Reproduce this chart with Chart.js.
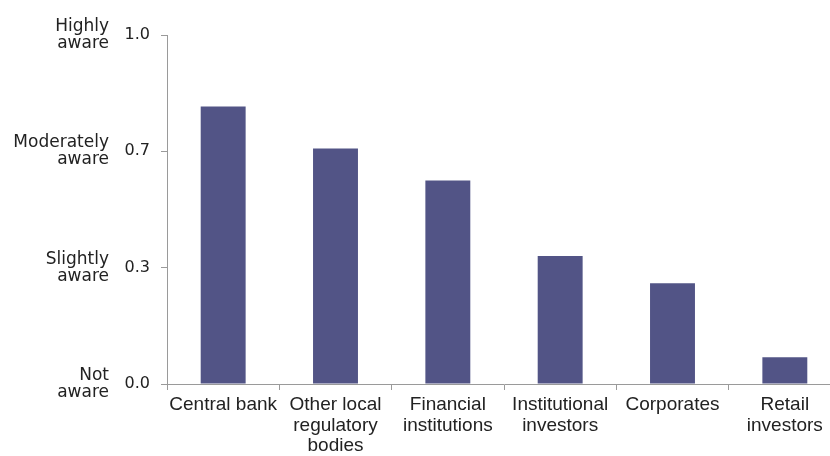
<!DOCTYPE html>
<html>
<head>
<meta charset="utf-8">
<script src="https://cdn.jsdelivr.net/npm/chart.js@4/dist/chart.umd.min.js"></script>
<style>
  html, body { margin: 0; padding: 0; background: #fff; overflow: hidden; }
  #wrap { width: 842px; height: 456px; }
</style>
</head>
<body>
<div id="wrap"><canvas id="awarenessChart" width="842" height="456"></canvas></div>
<script>
// chart values
const categories = [
    'Central bank',
    ['Other local', 'regulatory', 'bodies'],
    ['Financial', 'institutions'],
    ['Institutional', 'investors'],
    'Corporates',
    ['Retail', 'investors']
];
const awareness = [0.795, 0.675, 0.583, 0.367, 0.289, 0.077];
const tickValues = ['0.0', '0.3', '0.7', '1.0'];
const levelLabels = [['Not', 'aware'], ['Slightly', 'aware'], ['Moderately', 'aware'], ['Highly', 'aware']];

(function () {
    const ctx = document.getElementById('awarenessChart');
    const axisGrey = '#9a9a9a';
    const textColor = '#222222';

    // index of a tick at 0, 1/3, 2/3, 1
    const tickIndex = (v) => Math.round(v * 3);

    new Chart(ctx, {
        type: 'bar',
        data: {
            labels: categories,
            datasets: [{
                data: awareness,
                backgroundColor: '#525486',
                barPercentage: 0.4,
                categoryPercentage: 1.0
            }]
        },
        options: {
            responsive: false,
            animation: false,
            layout: { padding: { top: 35, right: 1, bottom: 0, left: 0 } },
            plugins: {
                legend: { display: false },
                tooltip: { enabled: false }
            },
            scales: {
                x: {
                    grid: {
                        display: true,
                        drawOnChartArea: false,
                        color: axisGrey,
                        tickLength: 6,
                        offset: true
                    },
                    border: { color: axisGrey, width: 1 },
                    ticks: {
                        color: textColor,
                        padding: 4,
                        maxRotation: 0,
                        autoSkip: false,
                        font: { family: 'Liberation Sans', size: 19, lineHeight: 1.1 }
                    },
                    afterFit: (scale) => { scale.height = 72; }
                },
                y: {
                    min: 0,
                    max: 1,
                    weight: 0,
                    grid: {
                        display: true,
                        drawOnChartArea: false,
                        color: axisGrey,
                        tickLength: 6
                    },
                    border: { color: axisGrey, width: 1 },
                    ticks: {
                        stepSize: 1 / 3,
                        color: textColor,
                        padding: 11,
                        font: { family: 'DejaVu Sans', size: 16 },
                        callback: (v) => tickValues[tickIndex(v)]
                    },
                    afterFit: (scale) => { scale.width = 56; }
                },
                y2: {
                    position: 'left',
                    min: 0,
                    max: 1,
                    weight: 1,
                    grid: { display: false, drawTicks: false },
                    border: { display: false },
                    ticks: {
                        stepSize: 1 / 3,
                        color: textColor,
                        padding: 2,
                        font: { family: 'DejaVu Sans', size: 17, lineHeight: 1.0 },
                        callback: (v) => levelLabels[tickIndex(v)]
                    },
                    afterFit: (scale) => { scale.width = 111; }
                }
            }
        }
    });
})();
</script>
</body>
</html>
